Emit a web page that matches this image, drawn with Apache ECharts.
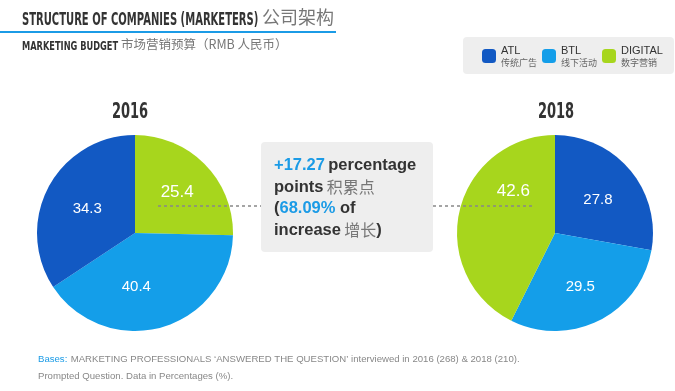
<!DOCTYPE html>
<html><head><meta charset="utf-8">
<script src="https://cdn.jsdelivr.net/npm/echarts@6/dist/echarts.min.js"></script>
<style>html,body{margin:0;padding:0;background:#fff}#c{width:675px;height:391px}</style>
</head><body><div id="c"></div>
<script>
const categories = ['ATL', 'BTL', 'DIGITAL'];
const categoriesCN = ['传统广告', '线下活动', '数字营销'];
const years = ['2016', '2018'];
// slice order clockwise from 12 o'clock
const order2016 = ['DIGITAL', 'BTL', 'ATL'];
const values2016 = [25.4, 40.4, 34.3];
const order2018 = ['ATL', 'BTL', 'DIGITAL'];
const values2018 = [27.8, 29.5, 42.6];
const colors = { ATL: '#1259c3', BTL: '#149ee9', DIGITAL: '#a7d61d' };

const chart = echarts.init(document.getElementById('c'), null, { renderer: 'canvas' });
const bold = '"DejaVu Sans", sans-serif';
const sans = '"Liberation Sans", Arial, sans-serif';
const cjk = '"Noto Sans CJK SC", sans-serif';

// label nudges (style only), by series then slice
const labelNudge = [
  [[5, -4], [-13, 4], [-2, 1]],
  [[3, 0], [2, 7], [9, -30]]
];

function pieSeries(name, order, vals, cx) {
  return {
    type: 'pie', name: name, center: [cx, 233], radius: [0, 98],
    startAngle: 90, clockwise: true, silent: true,
    label: { show: true, position: 'inside', color: '#fff', fontSize: 15, fontFamily: sans,
      formatter: p => p.value.toFixed(1) },
    labelLine: { show: false },
    labelLayout: p => ({ dx: labelNudge[p.seriesIndex][p.dataIndex][0], dy: labelNudge[p.seriesIndex][p.dataIndex][1] }),
    itemStyle: { borderWidth: 0 },
    data: order.map((n, i) => ({ name: n, value: vals[i], itemStyle: { color: colors[n] },
      label: { fontSize: n === 'DIGITAL' ? 17 : 15 } }))
  };
}

const option = {
  backgroundColor: '#ffffff',
  animation: false,
  legend: {
    left: 463, top: 37, orient: 'horizontal',
    backgroundColor: '#eeeeee', borderRadius: 4,
    padding: [8, 11, 7, 19],
    itemWidth: 14, itemHeight: 14, itemGap: 1, icon: 'roundRect',
    data: categories,
    formatter: n => '{a|' + n + '}\n{b|' + categoriesCN[categories.indexOf(n)] + '}',
    textStyle: {
      rich: {
        a: { fontSize: 11, color: '#333', fontFamily: sans, width: 40, lineHeight: 13 },
        b: { fontSize: 9, color: '#666', fontFamily: cjk, width: 40, lineHeight: 11 }
      }
    }
  },
  series: [
    pieSeries(years[0], order2016, values2016, 135),
    pieSeries(years[1], order2018, values2018, 555)
  ],
  graphic: [
    { type: 'text', x: 22, y: 11, scaleX: 0.556,
      style: { text: 'STRUCTURE OF COMPANIES (MARKETERS)', font: 'bold 18px ' + bold, fill: '#333', verticalAlign: 'top' } },
    { type: 'text', x: 262, y: 8,
      style: { text: '公司架构', font: '18px ' + cjk, fill: '#777', verticalAlign: 'top' } },
    { type: 'rect', shape: { x: 0, y: 31, width: 336, height: 2 }, style: { fill: '#1b9be6' } },
    { type: 'text', x: 22, y: 40, scaleX: 0.66,
      style: { text: 'MARKETING BUDGET', font: 'bold 12.5px ' + bold, fill: '#333', verticalAlign: 'top' } },
    { type: 'text', x: 121, y: 38,
      style: { text: '市场营销预算（RMB 人民币）', font: '12.5px ' + cjk, fill: '#777', verticalAlign: 'top' } },
    { type: 'text', x: 130, y: 102, scaleX: 0.62,
      style: { text: years[0], font: 'bold 21px ' + bold, fill: '#333', align: 'center', verticalAlign: 'top' } },
    { type: 'text', x: 556, y: 102, scaleX: 0.62,
      style: { text: years[1], font: 'bold 21px ' + bold, fill: '#333', align: 'center', verticalAlign: 'top' } },
    { type: 'line', shape: { x1: 158, y1: 206, x2: 261, y2: 206 },
      style: { stroke: '#888', lineWidth: 1.5, lineDash: [3, 3] }, z: 10 },
    { type: 'line', shape: { x1: 433, y1: 206, x2: 533, y2: 206 },
      style: { stroke: '#888', lineWidth: 1.5, lineDash: [3, 3] }, z: 10 },
    { type: 'rect', shape: { x: 261, y: 142, width: 172, height: 110, r: 4 },
      style: { fill: '#eeeeee' }, z: 5 },
    { type: 'text', x: 274, y: 155, z: 6,
      style: {
        text: '{h|+17.27} {t|percentage}\n{t|points} {c|积累点}\n{t|(}{h|68.09%}{t| of}\n{t|increase} {c|增长}{t|)}',
        verticalAlign: 'top',
        rich: {
          h: { fontFamily: sans, fontWeight: 'bold', fontSize: 16.5, fill: '#1b9be6', lineHeight: 21.5 },
          t: { fontFamily: sans, fontWeight: 'bold', fontSize: 16.5, fill: '#333', lineHeight: 21.5 },
          c: { fontFamily: cjk, fontSize: 16, fill: '#777', lineHeight: 21.5 }
        } } },
    { type: 'text', x: 38, y: 351,
      style: {
        text: '{b|Bases:} {g|MARKETING PROFESSIONALS ‘ANSWERED THE QUESTION’ interviewed in 2016 (268) & 2018 (210).}\n{g|Prompted Question. Data in Percentages (%).}',
        verticalAlign: 'top',
        rich: {
          b: { fontFamily: sans, fontSize: 9.6, fill: '#1b9be6', lineHeight: 17 },
          g: { fontFamily: sans, fontSize: 9.6, fill: '#888', lineHeight: 17 }
        } } }
  ]
};
chart.setOption(option);
</script></body></html>
